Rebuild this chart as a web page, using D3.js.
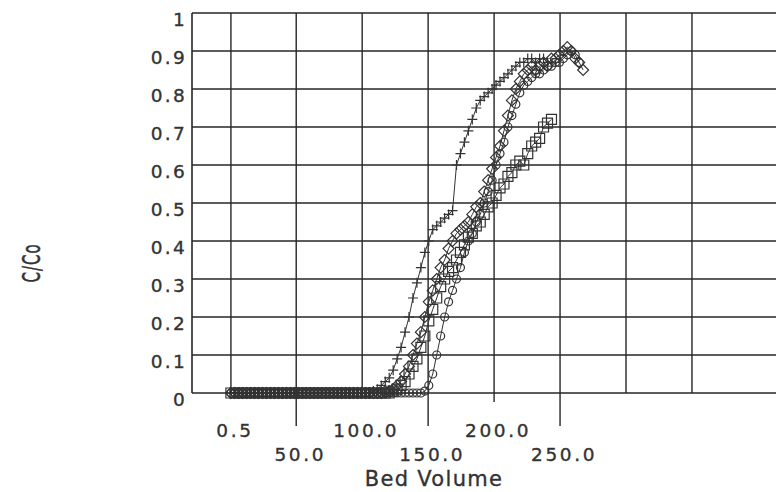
<!DOCTYPE html>
<html><head><meta charset="utf-8">
<script src="https://cdn.jsdelivr.net/npm/d3@7"></script>
<style>
body{margin:0;background:#fff}
svg{display:block}
text{font-family:"DejaVu Sans",sans-serif;fill:#333}
</style>
</head><body>
<svg id="chart" width="776" height="492"></svg>
<script>
const bedVolume=[0.5,3.5,6.5,9.5,12.5,15.5,18.5,21.5,24.5,27.5,
30.5,33.5,36.5,39.5,42.5,45.5,48.5,51.5,54.5,57.5,
60.5,63.5,66.5,69.5,72.5,75.5,78.5,81.5,84.5,87.5,
90.5,93.5,96.5,99.5,102.5,105.5,108.5,111.5,114.5,117.5,
120.5,123.5,126.5,129.5,132.5,135.5,138.5,141.5,144.5,147.5,
150.5,153.5,156.5,159.5,162.5,165.5,168.5,171.5,174.5,177.5,
180.5,183.5,186.5,189.5,192.5,195.5,198.5,201.5,204.5,207.5,
210.5,213.5,216.5,219.5,222.5,225.5,228.5,231.5,234.5,237.5,
240.5,243.5,246.5,249.5,252.5,255.5,258.5,261.5,264.5,267.5];

const seriesPlus=[0,0,0,0,0,0,0,0,0,0,0,0,0,0,0,0,0,0,0,0,0,0,0,0,0,0,0,0,0,0,0,0,0,0,0,0,
0.005,0.01,0.02,0.03,0.04,0.06,0.09,0.12,0.16,0.2,0.25,0.29,0.33,0.37,0.40,0.43,0.44,0.45,0.46,0.47,
0.48,0.60,0.63,0.66,0.69,0.72,0.75,0.77,0.78,0.79,0.80,0.81,0.82,0.83,0.84,0.85,0.86,0.87,0.87,0.88,
0.88,0.87,0.88,0.88,0.87];

const seriesDiamond=[0,0,0,0,0,0,0,0,0,0,0,0,0,0,0,0,0,0,0,0,0,0,0,0,0,0,0,0,0,0,0,0,0,0,0,0,
0,0,0,0.005,0.005,0.01,0.02,0.03,0.05,0.07,0.1,0.13,0.16,0.2,0.24,0.27,0.3,0.33,0.35,0.38,
0.4,0.42,0.43,0.44,0.45,0.47,0.49,0.5,0.53,0.56,0.59,0.62,0.65,0.69,0.73,0.77,0.8,0.82,0.84,0.85,
0.86,0.85,0.86,0.87,0.86,0.88,0.88,0.89,0.9,0.91,0.9,0.88,0.87,0.85];

const seriesCircle=[0,0,0,0,0,0,0,0,0,0,0,0,0,0,0,0,0,0,0,0,0,0,0,0,0,0,0,0,0,0,0,0,0,0,0,0,
0,0,0,0,0,0,0,0,0,0,0,0,0,0.005,0.02,0.05,0.1,0.15,0.2,0.24,0.27,0.3,0.33,0.37,
0.4,0.42,0.45,0.47,0.5,0.53,0.56,0.6,0.63,0.66,0.7,0.73,0.76,0.79,0.81,0.82,0.83,0.84,0.84,0.85,
0.86,0.86,0.87,0.87,0.88,0.89,0.9,0.89,0.87];

const seriesSquare=[0,0,0,0,0,0,0,0,0,0,0,0,0,0,0,0,0,0,0,0,0,0,0,0,0,0,0,0,0,0,0,0,0,0,0,0,
0,0,0,0,0,0.005,0.01,0.02,0.03,0.05,0.07,0.09,0.12,0.15,0.19,0.22,0.25,0.28,0.3,0.32,
0.33,0.35,0.37,0.39,0.41,0.42,0.44,0.45,0.47,0.49,0.5,0.52,0.54,0.55,0.57,0.58,0.6,0.61,0.6,0.63,
0.65,0.66,0.67,0.7,0.71,0.72];

const yTicks=[0,0.1,0.2,0.3,0.4,0.5,0.6,0.7,0.8,0.9,1];
const yTickLabels=["0","0.1","0.2","0.3","0.4","0.5","0.6","0.7","0.8","0.9","1"];
const xGrid=[0.5,50,100,150,200,250,300,350];
const xTickValues=[0.5,50,100,150,200,250];
const xTickLabels=["0.5","50.0","100.0","150.0","200.0","250.0"];
const yTitle="C/Co";
const xTitle="Bed Volume";

const svg=d3.select("#chart");
const L=192,R=776,T=13,B=393;
const x=d3.scaleLinear().domain([-29,413.7]).range([L,R]);
const y=d3.scaleLinear().domain([0,1]).range([B,T]);
const ink="#262626";

// horizontal grid
svg.append("g").selectAll("line").data(yTicks).join("line")
  .attr("x1",L).attr("x2",R).attr("y1",d=>y(d)).attr("y2",d=>y(d))
  .attr("stroke",ink).attr("stroke-width",1.5);
// vertical grid
svg.append("g").selectAll("line").data(xGrid).join("line")
  .attr("x1",d=>x(d)).attr("x2",d=>x(d)).attr("y1",T).attr("y2",B)
  .attr("stroke",ink).attr("stroke-width",1.4);
// left axis
svg.append("line").attr("x1",L).attr("x2",L).attr("y1",T).attr("y2",B)
  .attr("stroke",ink).attr("stroke-width",1.6);

// x ticks below axis (long for lower-row labels)
svg.append("g").selectAll("line").data(xTickValues.filter((d,i)=>i>0)).join("line")
  .attr("x1",d=>x(d)).attr("x2",d=>x(d)).attr("y1",B)
  .attr("y2",(d,i)=>(i%2===0)?B+33:(d===200?B+9:B))
  .attr("stroke",ink).attr("stroke-width",1.4);

const txt=svg.append("g").style("stroke","#333").style("stroke-width","0.35px");

// y labels
txt.append("g").selectAll("text").data(yTicks).join("text")
  .attr("x",187).attr("y",d=>y(d)+13).attr("text-anchor","end")
  .style("font-size","18.5px").style("letter-spacing","2.3px")
  .text((d,i)=>yTickLabels[i]);

// x labels
txt.append("g").selectAll("text").data(xTickValues).join("text")
  .attr("x",d=>x(d)+4).attr("y",(d,i)=>i%2===0?437:461).attr("text-anchor","middle")
  .style("font-size","18.5px").style("letter-spacing","2.6px")
  .text((d,i)=>xTickLabels[i]);

txt.append("text").attr("x",434).attr("y",486).attr("text-anchor","middle")
  .style("font-size","21px").style("letter-spacing","1.3px").text(xTitle);

txt.append("text").attr("transform","translate(40,263) rotate(-90) scale(1,1.7)")
  .attr("text-anchor","middle").style("font-size","15px").style("letter-spacing","1px").text(yTitle);

// series
const plotG=svg.append("g");
const line=d3.line().x(d=>x(d[0])).y(d=>y(d[1]));
function pairs(vals){return vals.map((v,i)=>[bedVolume[i],v]);}
const markerPaths={
  plus:"M-5,0H5M0,-5V5",
  diamond:"M0,-5.5L5.5,0L0,5.5L-5.5,0Z",
  circle:d3.symbol(d3.symbolCircle,50)(),
  square:"M-5,-5H5V5H-5Z"
};
const seriesList=[
  {vals:seriesSquare,m:"square"},
  {vals:seriesCircle,m:"circle"},
  {vals:seriesDiamond,m:"diamond"},
  {vals:seriesPlus,m:"plus"}
];
seriesList.forEach(s=>{
  const pts=pairs(s.vals);
  plotG.append("path").datum(pts).attr("d",line)
    .attr("fill","none").attr("stroke","#333").attr("stroke-width",1);
  plotG.append("g").selectAll("path").data(pts).join("path")
    .attr("transform",d=>`translate(${x(d[0])},${y(d[1])})`)
    .attr("d",markerPaths[s.m]).attr("fill","none")
    .attr("stroke","#333").attr("stroke-width",1.2);
});
</script>
</body></html>
